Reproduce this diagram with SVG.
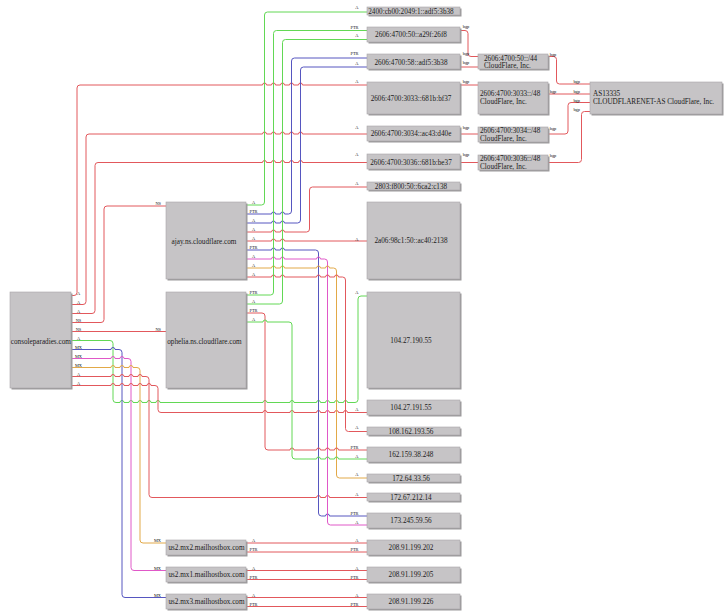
<svg xmlns="http://www.w3.org/2000/svg" width="727" height="616" viewBox="0 0 727 616">
<style>
.s{fill:#9c9a9c}
.b{fill:#c6c4c6;stroke:#a8a6a8;stroke-width:0.6}
.t{font-family:"Liberation Serif",serif;font-size:7.2px;fill:#1a1a1a}
.c{text-anchor:middle}
.l{font-family:"Liberation Serif",serif;font-size:4.4px;fill:#111}
.lm{text-anchor:middle}
.le{text-anchor:end}
#edges path{fill:none;stroke-width:1}
.r{stroke:#e2585c}
.g{stroke:#62d855}
.bl{stroke:#5656c0}
.m{stroke:#e058c8}
.o{stroke:#e2a948}
</style>
<rect width="727" height="616" fill="#ffffff"/>
<g id="edges">
<path class="r" d="M72 295.5H74Q77 295.5 77 292.5V88Q77 85 80 85H262.5A2 2 0 0 1 266.5 85H271.5A2 2 0 0 1 275.5 85H280.5A2 2 0 0 1 284.5 85H289.5A2 2 0 0 1 293.5 85H298.5A2 2 0 0 1 302.5 85H367"/>
<path class="r" d="M72 304.5H83Q86 304.5 86 301.5V137Q86 134 89 134H262.5A2 2 0 0 1 266.5 134H271.5A2 2 0 0 1 275.5 134H280.5A2 2 0 0 1 284.5 134H289.5A2 2 0 0 1 293.5 134H298.5A2 2 0 0 1 302.5 134H367"/>
<path class="r" d="M72 313.5H92Q95 313.5 95 310.5V165.5Q95 162.5 98 162.5H262.5A2 2 0 0 1 266.5 162.5H271.5A2 2 0 0 1 275.5 162.5H280.5A2 2 0 0 1 284.5 162.5H289.5A2 2 0 0 1 293.5 162.5H298.5A2 2 0 0 1 302.5 162.5H367"/>
<path class="r" d="M72 322.5H101Q104 322.5 104 319.5V209Q104 206 107 206H166"/>
<path class="r" d="M72 331.5H166"/>
<path class="g" d="M72 340.5H110Q113 340.5 113 343.5V399.5Q113 402.5 116 402.5H120A2 2 0 0 1 124 402.5H129A2 2 0 0 1 133 402.5H138A2 2 0 0 1 142 402.5H147A2 2 0 0 1 151 402.5H156A2 2 0 0 1 160 402.5H263A2 2 0 0 1 267 402.5H290A2 2 0 0 1 294 402.5H316.5A2 2 0 0 1 320.5 402.5H325.5A2 2 0 0 1 329.5 402.5H334.5A2 2 0 0 1 338.5 402.5H343.5A2 2 0 0 1 347.5 402.5H355Q358 402.5 358 399.5V299Q358 296 361 296H367"/>
<path class="bl" d="M72 349.5H111A2 2 0 0 1 115 349.5H119Q122 349.5 122 352.5V594.5Q122 597.5 125 597.5H166"/>
<path class="m" d="M72 358.5H111A2 2 0 0 1 115 358.5H120A2 2 0 0 1 124 358.5H128Q131 358.5 131 361.5V567.5Q131 570.5 134 570.5H166"/>
<path class="o" d="M72 367.5H111A2 2 0 0 1 115 367.5H120A2 2 0 0 1 124 367.5H129A2 2 0 0 1 133 367.5H137Q140 367.5 140 370.5V540Q140 543 143 543H166"/>
<path class="r" d="M72 376.5H111A2 2 0 0 1 115 376.5H120A2 2 0 0 1 124 376.5H129A2 2 0 0 1 133 376.5H138A2 2 0 0 1 142 376.5H146Q149 376.5 149 379.5V494.5Q149 497.5 152 497.5H316.5A2 2 0 0 1 320.5 497.5H325.5A2 2 0 0 1 329.5 497.5H367"/>
<path class="r" d="M72 385.5H111A2 2 0 0 1 115 385.5H120A2 2 0 0 1 124 385.5H129A2 2 0 0 1 133 385.5H138A2 2 0 0 1 142 385.5H147A2 2 0 0 1 151 385.5H155Q158 385.5 158 388.5V409.5Q158 412.5 161 412.5H263A2 2 0 0 1 267 412.5H290A2 2 0 0 1 294 412.5H316.5A2 2 0 0 1 320.5 412.5H325.5A2 2 0 0 1 329.5 412.5H334.5A2 2 0 0 1 338.5 412.5H343.5A2 2 0 0 1 347.5 412.5H367"/>
<path class="g" d="M247 205H261.5Q264.5 205 264.5 202V15Q264.5 12 267.5 12H367"/>
<path class="bl" d="M247 214H271.5A2 2 0 0 1 275.5 214H280.5A2 2 0 0 1 284.5 214H288.5Q291.5 214 291.5 211V61Q291.5 58 294.5 58H367"/>
<path class="bl" d="M247 223H271.5A2 2 0 0 1 275.5 223H280.5A2 2 0 0 1 284.5 223H297.5Q300.5 223 300.5 220V70Q300.5 67 303.5 67H367"/>
<path class="r" d="M247 232H271.5A2 2 0 0 1 275.5 232H280.5A2 2 0 0 1 284.5 232H306.5Q309.5 232 309.5 229V190Q309.5 187 312.5 187H367"/>
<path class="r" d="M247 241H271.5A2 2 0 0 1 275.5 241H280.5A2 2 0 0 1 284.5 241H367"/>
<path class="bl" d="M247 250H271.5A2 2 0 0 1 275.5 250H280.5A2 2 0 0 1 284.5 250H315.5Q318.5 250 318.5 253V513Q318.5 516 321.5 516H325.5A2 2 0 0 1 329.5 516H367"/>
<path class="m" d="M247 259H271.5A2 2 0 0 1 275.5 259H280.5A2 2 0 0 1 284.5 259H316.5A2 2 0 0 1 320.5 259H324.5Q327.5 259 327.5 262V522Q327.5 525 330.5 525H367"/>
<path class="o" d="M247 268H271.5A2 2 0 0 1 275.5 268H280.5A2 2 0 0 1 284.5 268H316.5A2 2 0 0 1 320.5 268H325.5A2 2 0 0 1 329.5 268H333.5Q336.5 268 336.5 271V475Q336.5 478 339.5 478H367"/>
<path class="r" d="M247 277H271.5A2 2 0 0 1 275.5 277H280.5A2 2 0 0 1 284.5 277H316.5A2 2 0 0 1 320.5 277H325.5A2 2 0 0 1 329.5 277H334.5A2 2 0 0 1 338.5 277H342.5Q345.5 277 345.5 280V428.5Q345.5 431.5 348.5 431.5H367"/>
<path class="g" d="M247 295H270.5Q273.5 295 273.5 292V33.5Q273.5 30.5 276.5 30.5H367"/>
<path class="g" d="M247 304H279.5Q282.5 304 282.5 301V42.5Q282.5 39.5 285.5 39.5H367"/>
<path class="r" d="M247 313H262Q265 313 265 316V447Q265 450 268 450H290A2 2 0 0 1 294 450H316.5A2 2 0 0 1 320.5 450H325.5A2 2 0 0 1 329.5 450H334.5A2 2 0 0 1 338.5 450H367"/>
<path class="g" d="M247 322H263A2 2 0 0 1 267 322H289Q292 322 292 325V456Q292 459 295 459H316.5A2 2 0 0 1 320.5 459H325.5A2 2 0 0 1 329.5 459H334.5A2 2 0 0 1 338.5 459H367"/>
<path class="r" d="M247 543H367"/>
<path class="r" d="M247 552H367"/>
<path class="r" d="M247 570.5H367"/>
<path class="r" d="M247 579.5H367"/>
<path class="r" d="M247 597.5H367"/>
<path class="r" d="M247 606.5H367"/>
<path class="r" d="M460 30.5H465Q468 30.5 468 33.5V53.5Q468 56.5 471 56.5H478"/>
<path class="r" d="M460 67H478"/>
<path class="r" d="M460 85H478"/>
<path class="r" d="M460 134H478"/>
<path class="r" d="M460 162.5H478"/>
<path class="r" d="M548 56.5H553.5Q556.5 56.5 556.5 59.5V81Q556.5 84 559.5 84H590"/>
<path class="r" d="M548 94H590"/>
<path class="r" d="M548 134H565Q568 134 568 131V105.5Q568 102.5 571 102.5H590"/>
<path class="r" d="M548 162.5H578.5Q581.5 162.5 581.5 159.5V114.5Q581.5 111.5 584.5 111.5H590"/>
<g class="l lm">
<text x="78.5" y="294.5">A</text><text x="78.5" y="303.5">A</text><text x="78.5" y="312.5">A</text><text x="78.5" y="321.5">NS</text><text x="78.5" y="330.5">NS</text><text x="78.5" y="339.5">A</text><text x="78.5" y="348.5">MX</text><text x="78.5" y="357.5">MX</text><text x="78.5" y="366.5">MX</text><text x="78.5" y="375.5">A</text><text x="78.5" y="384.5">A</text>
<text x="253.5" y="204">A</text><text x="253.5" y="213">PTR</text><text x="253.5" y="222">A</text><text x="253.5" y="231">A</text><text x="253.5" y="240">A</text><text x="253.5" y="249">PTR</text><text x="253.5" y="258">A</text><text x="253.5" y="267">A</text><text x="253.5" y="276">A</text>
<text x="253.5" y="294">PTR</text><text x="253.5" y="303">A</text><text x="253.5" y="312">PTR</text><text x="253.5" y="321">A</text>
<text x="253.5" y="542">A</text><text x="253.5" y="551">PTR</text><text x="253.5" y="569.5">A</text><text x="253.5" y="578.5">PTR</text><text x="253.5" y="596.5">A</text><text x="253.5" y="605.5">PTR</text>
<text x="466" y="27.9">bgp</text><text x="466" y="55.2">bgp</text><text x="466" y="64.4">bgp</text><text x="466" y="83.1">bgp</text><text x="466" y="128.7">bgp</text><text x="466" y="156.4">bgp</text>
<text x="553" y="56.4">bgp</text><text x="553" y="93">bgp</text><text x="553" y="129.7">bgp</text><text x="553" y="157.4">bgp</text>
</g>
<g class="l le">
<text x="161" y="205">NS</text><text x="161" y="330.5">NS</text>
<text x="161" y="542">MX</text><text x="161" y="569.5">MX</text><text x="161" y="596.5">MX</text>
<text x="358.5" y="8.7">A</text><text x="358.5" y="28.7">PTR</text><text x="358.5" y="37.4">A</text><text x="358.5" y="55.4">PTR</text><text x="358.5" y="64.7">A</text><text x="358.5" y="83.1">A</text><text x="358.5" y="128.7">A</text><text x="358.5" y="156.4">A</text><text x="358.5" y="184.7">A</text><text x="358.5" y="240.7">A</text>
<text x="358.5" y="294.4">A</text><text x="358.5" y="410.7">A</text><text x="358.5" y="429.1">A</text><text x="358.5" y="448.7">PTR</text><text x="358.5" y="458.1">A</text><text x="358.5" y="476.4">A</text><text x="358.5" y="495.7">A</text><text x="358.5" y="514.7">PTR</text><text x="358.5" y="524.1">A</text>
<text x="358.5" y="542">A</text><text x="358.5" y="551">PTR</text><text x="358.5" y="569.5">A</text><text x="358.5" y="578.5">PTR</text><text x="358.5" y="596.5">A</text><text x="358.5" y="605.5">PTR</text>
<text x="580" y="83.3">bgp</text><text x="580" y="93.2">bgp</text><text x="580" y="101.6">bgp</text><text x="580" y="110.8">bgp</text>
</g>
</g>
<g id="n-consoleparadies"><rect class="s" x="11.5" y="293.5" width="61" height="96"/><rect class="b" x="10" y="292" width="61" height="96"/><text class="t c" x="40.8" y="343.5">consoleparadies.com</text></g>
<g id="n-ajay"><rect class="s" x="167.5" y="203.5" width="80" height="77"/><rect class="b" x="166" y="202" width="80" height="77"/><text class="t c" x="204" y="243.5">ajay.ns.cloudflare.com</text></g>
<g id="n-ophelia"><rect class="s" x="167.5" y="293.5" width="80" height="96"/><rect class="b" x="166" y="292" width="80" height="96"/><text class="t c" x="204.5" y="343.5">ophelia.ns.cloudflare.com</text></g>
<g id="n-mx2"><rect class="s" x="167.5" y="541.5" width="80" height="15"/><rect class="b" x="166" y="540" width="80" height="15"/><text class="t c" x="206.5" y="550">us2.mx2.mailhostbox.com</text></g>
<g id="n-mx1"><rect class="s" x="167.5" y="568.5" width="80" height="15"/><rect class="b" x="166" y="567" width="80" height="15"/><text class="t c" x="206.5" y="577">us2.mx1.mailhostbox.com</text></g>
<g id="n-mx3"><rect class="s" x="167.5" y="595.5" width="80" height="15"/><rect class="b" x="166" y="594" width="80" height="15"/><text class="t c" x="206.5" y="604">us2.mx3.mailhostbox.com</text></g>
<g id="n-2400"><rect class="s" x="368.5" y="8.5" width="93" height="8"/><rect class="b" x="367" y="7" width="93" height="8"/><text class="t c" x="411" y="13.8">2400:cb00:2049:1::adf5:3b38</text></g>
<g id="n-2606-50"><rect class="s" x="368.5" y="28.5" width="93" height="15"/><rect class="b" x="367" y="27" width="93" height="15"/><text class="t c" x="411" y="36.8">2606:4700:50::a29f:26f8</text></g>
<g id="n-2606-58"><rect class="s" x="368.5" y="55.5" width="93" height="15"/><rect class="b" x="367" y="54" width="93" height="15"/><text class="t c" x="411" y="64.7">2606:4700:58::adf5:3b38</text></g>
<g id="n-2606-3033"><rect class="s" x="368.5" y="83.5" width="93" height="32"/><rect class="b" x="367" y="82" width="93" height="32"/><text class="t c" x="411" y="100.7">2606:4700:3033::681b:bf37</text></g>
<g id="n-2606-3034"><rect class="s" x="368.5" y="127.5" width="93" height="15"/><rect class="b" x="367" y="126" width="93" height="15"/><text class="t c" x="411" y="136.4">2606:4700:3034::ac43:d40e</text></g>
<g id="n-2606-3036"><rect class="s" x="368.5" y="155.5" width="93" height="15"/><rect class="b" x="367" y="154" width="93" height="15"/><text class="t c" x="411" y="164.7">2606:4700:3036::681b:be37</text></g>
<g id="n-2803"><rect class="s" x="368.5" y="183.5" width="93" height="8"/><rect class="b" x="367" y="182" width="93" height="8"/><text class="t c" x="411" y="188.9">2803:f800:50::6ca2:c138</text></g>
<g id="n-2a06"><rect class="s" x="368.5" y="203.5" width="93" height="77"/><rect class="b" x="367" y="202" width="93" height="77"/><text class="t c" x="411" y="243.4">2a06:98c1:50::ac40:2138</text></g>
<g id="n-104-27-190-55"><rect class="s" x="368.5" y="293.5" width="93" height="96"/><rect class="b" x="367" y="292" width="93" height="96"/><text class="t c" x="411" y="343.4">104.27.190.55</text></g>
<g id="n-104-27-191-55"><rect class="s" x="368.5" y="401.5" width="93" height="15"/><rect class="b" x="367" y="400" width="93" height="15"/><text class="t c" x="411" y="410">104.27.191.55</text></g>
<g id="n-108-162-193-56"><rect class="s" x="368.5" y="428.5" width="93" height="8"/><rect class="b" x="367" y="427" width="93" height="8"/><text class="t c" x="411" y="433.9">108.162.193.56</text></g>
<g id="n-162-159-38-248"><rect class="s" x="368.5" y="448.5" width="93" height="15"/><rect class="b" x="367" y="447" width="93" height="15"/><text class="t c" x="411" y="457.3">162.159.38.248</text></g>
<g id="n-172-64-33-56"><rect class="s" x="368.5" y="475.5" width="93" height="8"/><rect class="b" x="367" y="474" width="93" height="8"/><text class="t c" x="411" y="480.7">172.64.33.56</text></g>
<g id="n-172-67-212-14"><rect class="s" x="368.5" y="494.5" width="93" height="8"/><rect class="b" x="367" y="493" width="93" height="8"/><text class="t c" x="411" y="500">172.67.212.14</text></g>
<g id="n-173-245-59-56"><rect class="s" x="368.5" y="514.5" width="93" height="15"/><rect class="b" x="367" y="513" width="93" height="15"/><text class="t c" x="411" y="523">173.245.59.56</text></g>
<g id="n-208-91-199-202"><rect class="s" x="368.5" y="541.5" width="93" height="15"/><rect class="b" x="367" y="540" width="93" height="15"/><text class="t c" x="411" y="550">208.91.199.202</text></g>
<g id="n-208-91-199-205"><rect class="s" x="368.5" y="568.5" width="93" height="15"/><rect class="b" x="367" y="567" width="93" height="15"/><text class="t c" x="411" y="577">208.91.199.205</text></g>
<g id="n-208-91-199-226"><rect class="s" x="368.5" y="595.5" width="93" height="15"/><rect class="b" x="367" y="594" width="93" height="15"/><text class="t c" x="411" y="604">208.91.199.226</text></g>
<g id="n-net-50"><rect class="s" x="479.5" y="55.5" width="70" height="15"/><rect class="b" x="478" y="54" width="70" height="15"/><text class="t" x="484" y="60.7">2606:4700:50::/44</text><text class="t" x="484" y="68.4">CloudFlare, Inc.</text></g>
<g id="n-net-3033"><rect class="s" x="479.5" y="83.5" width="70" height="32"/><rect class="b" x="478" y="82" width="70" height="32"/><text class="t" x="480" y="96.4">2606:4700:3033::/48</text><text class="t" x="480" y="104">CloudFlare, Inc.</text></g>
<g id="n-net-3034"><rect class="s" x="479.5" y="128.5" width="70" height="15"/><rect class="b" x="478" y="127" width="70" height="15"/><text class="t" x="480" y="133">2606:4700:3034::/48</text><text class="t" x="480" y="140.7">CloudFlare, Inc.</text></g>
<g id="n-net-3036"><rect class="s" x="479.5" y="156.5" width="70" height="15"/><rect class="b" x="478" y="155" width="70" height="15"/><text class="t" x="480" y="161">2606:4700:3036::/48</text><text class="t" x="480" y="168.7">CloudFlare, Inc.</text></g>
<g id="n-as13335"><rect class="s" x="591.5" y="83.5" width="132" height="32"/><rect class="b" x="590" y="82" width="132" height="32"/><text class="t" x="593" y="96.4">AS13335</text><text class="t" x="593" y="104">CLOUDFLARENET-AS CloudFlare, Inc.</text></g>
</svg>
